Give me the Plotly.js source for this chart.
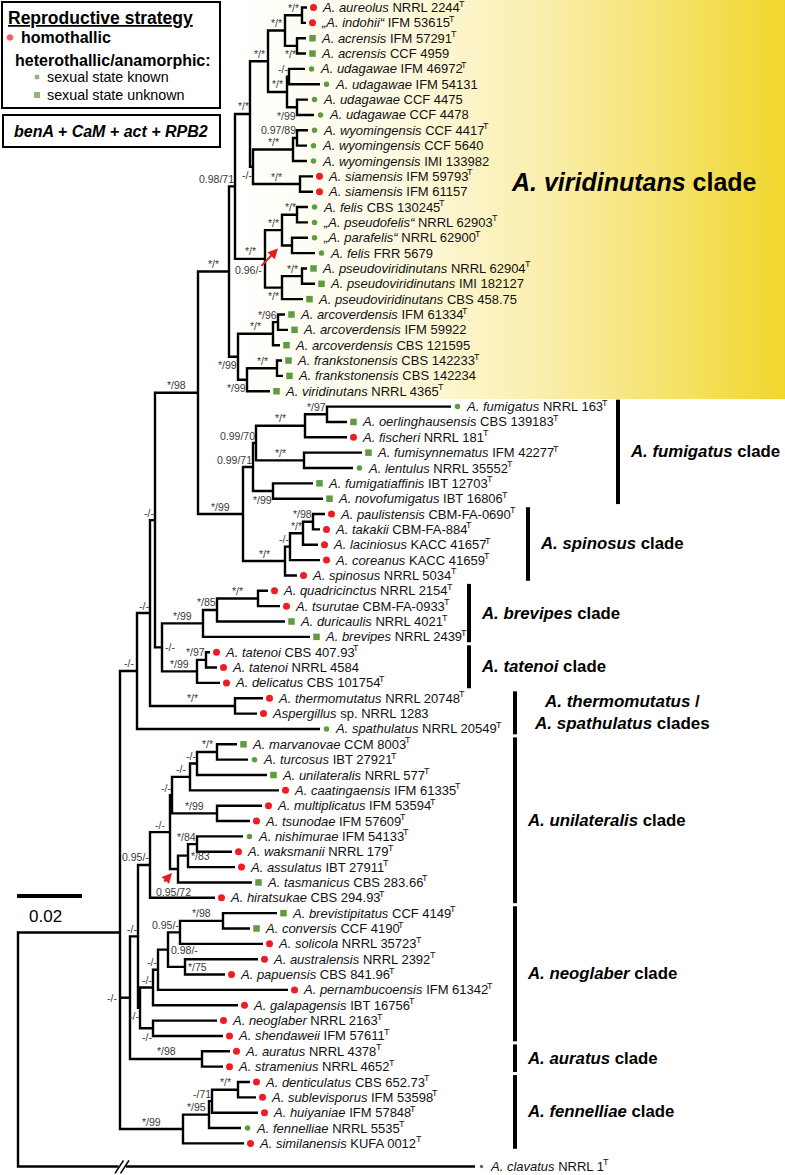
<!DOCTYPE html>
<html><head><meta charset="utf-8">
<script src="https://cdn.plot.ly/plotly-3.0.1.min.js"></script>
<style>html,body{margin:0;padding:0;background:#fff}#chart{width:785px;height:1175px}</style>
</head><body><div id="chart"></div>
<script>
// ================= DATA =================
const leafSpecies = ["A. aureolus","„A. indohii“","A. acrensis","A. acrensis","A. udagawae","A. udagawae","A. udagawae","A. udagawae","A. wyomingensis","A. wyomingensis","A. wyomingensis","A. siamensis","A. siamensis","A. felis","„A. pseudofelis“","„A. parafelis“","A. felis","A. pseudoviridinutans","A. pseudoviridinutans","A. pseudoviridinutans","A. arcoverdensis","A. arcoverdensis","A. arcoverdensis","A. frankstonensis","A. frankstonensis","A. viridinutans","A. fumigatus","A. oerlinghausensis","A. fischeri","A. fumisynnematus","A. lentulus","A. fumigatiaffinis","A. novofumigatus","A. paulistensis","A. takakii","A. laciniosus","A. coreanus","A. spinosus","A. quadricinctus","A. tsurutae","A. duricaulis","A. brevipes","A. tatenoi","A. tatenoi","A. delicatus","A. thermomutatus","Aspergillus","A. spathulatus","A. marvanovae","A. turcosus","A. unilateralis","A. caatingaensis","A. multiplicatus","A. tsunodae","A. nishimurae","A. waksmanii","A. assulatus","A. tasmanicus","A. hiratsukae","A. brevistipitatus","A. conversis","A. solicola","A. australensis","A. papuensis","A. pernambucoensis","A. galapagensis","A. neoglaber","A. shendaweii","A. auratus","A. stramenius","A. denticulatus","A. sublevisporus","A. huiyaniae","A. fennelliae","A. similanensis","A. clavatus"];
const leafStrain = ["NRRL 2244","IFM 53615","IFM 57291","CCF 4959","IFM 46972","IFM 54131","CCF 4475","CCF 4478","CCF 4417","CCF 5640","IMI 133982","IFM 59793","IFM 61157","CBS 130245","NRRL 62903","NRRL 62900","FRR 5679","NRRL 62904","IMI 182127","CBS 458.75","IFM 61334","IFM 59922","CBS 121595","CBS 142233","CBS 142234","NRRL 4365","NRRL 163","CBS 139183","NRRL 181","IFM 42277","NRRL 35552","IBT 12703","IBT 16806","CBM-FA-0690","CBM-FA-884","KACC 41657","KACC 41659","NRRL 5034","NRRL 2154","CBM-FA-0933","NRRL 4021","NRRL 2439","CBS 407.93","NRRL 4584","CBS 101754","NRRL 20748","sp. NRRL 1283","NRRL 20549","CCM 8003","IBT 27921","NRRL 577","IFM 61335","IFM 53594","IFM 57609","IFM 54133","NRRL 179","IBT 27911","CBS 283.66","CBS 294.93","CCF 4149","CCF 4190","NRRL 35723","NRRL 2392","CBS 841.96","IFM 61342","IBT 16756","NRRL 2163","IFM 57611","NRRL 4378","NRRL 4652","CBS 652.73","IFM 53598","IFM 57848","NRRL 5535","KUFA 0012","NRRL 1"];
// 1 = ex-type strain (superscript T)
const leafExType = [1,1,1,0,1,0,0,0,1,0,0,1,0,1,1,1,0,1,0,0,1,0,0,1,0,1,1,1,1,1,1,1,1,1,1,1,1,1,1,1,1,1,1,0,1,1,0,1,1,1,1,1,1,1,1,1,1,1,1,1,1,1,1,1,1,1,1,1,1,1,1,1,1,1,1,1];
// h = homothallic, k = heterothallic/anamorphic sexual state known, u = sexual state unknown, o = outgroup
const leafRepro = ["h","h","u","u","k","k","k","k","k","k","k","h","h","k","k","k","k","u","u","u","u","u","u","u","u","u","k","u","h","u","k","u","u","h","h","h","h","h","h","h","u","u","h","h","h","h","h","k","u","k","u","h","h","h","k","h","h","u","h","u","u","h","h","h","h","h","h","h","h","h","h","h","h","k","h","o"];
// cumulative distance from root of each tip (x units; 65 units = 0.02 substitutions/site)
const leafDepth = [307,306,306,306,305,320,308,314,308,307,307,313,313,308,308,308,315,307,315,303,285,288,280,282,283,270,451,347,347,362,353,313,323,325,320,318,320,297,268,280,285,310,210,217,220,263,257,320,237,248,267,279,262,250,243,232,235,252,215,277,250,263,258,225,288,238,217,223,230,223,250,256,258,241,244,475];
// internal nodes (post-order): children, depth, support (PP/BS)
const nodeKids = [
 ['L0','L1'],['L2','L3'],['N0','N1'],['L4','L5'],['L6','L7'],['N3','N4'],['N2','N5'],['L8','L9'],['N7','L10'],['L11','L12'],
 ['N8','N9'],['N6','N10'],['L13','L14'],['L15','L16'],['N12','N13'],['L17','L18'],['N15','L19'],['N14','N16'],['N11','N17'],['L20','L21'],
 ['N19','L22'],['L23','L24'],['N21','L25'],['N20','N22'],['N18','N23'],['L26','L27'],['N25','L28'],['L29','L30'],['N26','N27'],['L31','L32'],
 ['N28','N29'],['L33','L34'],['N31','L35'],['N32','L36'],['N33','L37'],['N30','N34'],['N24','N35'],['L38','L39'],['N37','L40'],['N38','L41'],
 ['L42','L43'],['N40','L44'],['N39','N41'],['N36','N42'],['L45','L46'],['N43','N44'],['N45','L47'],['L48','L49'],['N47','L50'],['N48','L51'],
 ['L52','L53'],['N49','N50'],['L54','L55'],['N52','L56'],['N53','L57'],['N51','N54'],['N55','L58'],['L59','L60'],['N57','L61'],['L62','L63'],
 ['N58','N59'],['N60','L64'],['N61','L65'],['L66','L67'],['N62','N63'],['L68','L69'],['N56','N64'],['N66','N65'],['L70','L71'],['N68','L72'],
 ['N69','L73'],['N70','L74'],['N46','N67','N71'],['N72','L75']
];
const nodeDepth = [302,297,285,289,297,287,268,297,293,300, 253,250,297,292,282,302,282,265,235,278, 273,277,247,238,229,327,305,304,256,273, 253,313,303,290,285,243,198,258,217,203, 206,197,162,155,235,150,137,217,197,190, 217,172,197,188,178,170,150,223,180,185, 168,158,153,153,140,202,138,130,238,212, 209,183,120,18];
const nodeSupport = ["*/*","*/*","*/*","-/-","*/99","*/*","*/*","0.97/89","*/*","*/*", "-/-","*/*","*/*","0.96/-","*/*","*/*","*/*","*/*","0.98/71","*/96", "*/*","*/*","*/99","*/99","*/*","*/97","*/*","*/*","0.99/70","*/99", "0.99/71","*/98","*/*","-/-","*/*","*/99","*/98","*/*","*/85","*/99", "*/97","*/99","-/-","-/-","*/*","-/-","-/-","*/*","-/-","-/-", "*/99","-/-","*/84","*/83","0.95/72","-/-","0.95/-","*/98","0.95/-","*/75", "0.98/-","-/-","-/-","-/-","-/-","*/98","-/-","-/-","*/*","-/71", "*/95","*/99","",""];
// clades
const cladeNames = ["A. viridinutans","A. fumigatus","A. spinosus","A. brevipes","A. tatenoi","A. thermomutatus|A. spathulatus","A. unilateralis","A. neoglaber","A. auratus","A. fennelliae"];
const cladeFirst = [0,26,33,38,42,45,48,59,68,70];
const cladeLast  = [25,32,37,41,44,47,58,67,69,74];
const scaleValue = 0.02;
const unitsPerSubst = 3250;

// ================= STYLE =================
// support-label placement: a = above incoming branch, b = below, r = right of node, p = left of parent, L/B = with arrow
const labelMode = ["a","b","a","a","b","a","a","a","a","a", "b","a","a","L","a","a","b","a","a","a", "a","a","b","b","a","a","a","a","a","b", "a","a","a","a","a","a","a","a","a","a", "a","a","r","a","a","a","a","a","a","a", "a","a","a","r","B","a","a","a","a","r", "r","a","a","b","b","a","a","p","a","a", "a","a","",""];
const cladeBarX = [null,618,528,469,469,515,515,515,515,515];
const FONT = "Liberation Sans, Arial, sans-serif";
const RED = "#ee1c24", GREEN = "#5f9b3f";
const rowTop = 7.5, rowPitch = 15.35, outgroupGap = 0.5;
const SUP_SIZE = 10.5, TIP_SIZE = 13;

// ================= LAYOUT COMPUTATION =================
const pos = {};
const rowY = r => rowTop + r * rowPitch;
leafSpecies.forEach((s, i) => {
  const r = leafRepro[i] === 'o' ? i + outgroupGap : i;
  pos['L' + i] = {x: leafDepth[i], y: rowY(r)};
});
const parentOf = {};
nodeKids.forEach((kids, j) => {
  const ys = kids.map(k => pos[k].y);
  pos['N' + j] = {x: nodeDepth[j], y: ys.reduce((a, b) => a + b, 0) / ys.length};
  kids.forEach(k => parentOf[k] = 'N' + j);
});

// branches
const bx = [], by = [];
nodeKids.forEach((kids, j) => {
  const p = pos['N' + j], f = pos[kids[0]], l = pos[kids[kids.length - 1]];
  bx.push(f.x, p.x, p.x, l.x, null); by.push(f.y, f.y, l.y, l.y, null);
  for (let k = 1; k < kids.length - 1; k++) { const m = pos[kids[k]]; bx.push(p.x, m.x, null); by.push(m.y, m.y, null); }
});

const traces = [];
// yellow highlight behind the A. viridinutans clade
const gx0 = 232, gy1 = rowY(cladeLast[0] + 0.5);
traces.push({type: 'scatter', x: [gx0, 785, 785, gx0, gx0], y: [0, 0, gy1, gy1, 0], mode: 'none', fill: 'toself',
  fillgradient: {type: 'horizontal', colorscale: [[0, 'rgba(255,255,255,1)'], [0.25, '#fefbe9'], [0.55, '#faefb0'], [0.8, '#f5e269'], [1, '#f1d62c']]},
  hoverinfo: 'skip', showlegend: false});
traces.push({type: 'scatter', mode: 'lines', x: bx, y: by, line: {color: '#000', width: 2.4}, hoverinfo: 'skip', showlegend: false, connectgaps: false});

// tip markers
const mk = {h: {c: RED, s: 'circle', z: 7}, k: {c: GREEN, s: 'circle', z: 5.5}, u: {c: GREEN, s: 'square', z: 6.5}, o: {c: '#666', s: 'circle', z: 3.5}};
Object.keys(mk).forEach(key => {
  const xs = [], ys = [];
  leafRepro.forEach((r, i) => { if (r === key) { xs.push(pos['L' + i].x + 6.5); ys.push(pos['L' + i].y); } });
  traces.push({type: 'scatter', mode: 'markers', x: xs, y: ys, marker: {color: mk[key].c, symbol: mk[key].s, size: mk[key].z, line: {width: 0}}, hoverinfo: 'skip', showlegend: false});
});

const ann = [];
// tip labels (the ex-type "T" is placed after the measured label width)
const ctx = document.createElement('canvas').getContext('2d');
function measure(font, s) { ctx.font = font; return ctx.measureText(s).width; }
leafSpecies.forEach((s, i) => {
  const p = pos['L' + i], tx = p.x + 12.5;
  ann.push({x: tx, y: p.y, xanchor: 'left', yanchor: 'middle', showarrow: false,
    text: '<i>' + s + '</i> ' + leafStrain[i], font: {family: FONT, size: TIP_SIZE, color: '#111'}});
  if (leafExType[i]) {
    const w = measure('italic ' + TIP_SIZE + 'px "Liberation Sans"', s) + measure(TIP_SIZE + 'px "Liberation Sans"', ' ' + leafStrain[i]);
    ann.push({x: tx + w + 0.3, y: p.y - 4, xanchor: 'left', yanchor: 'middle', showarrow: false,
      text: 'T', font: {family: FONT, size: 9, color: '#111'}});
  }
});

// support labels
function textW(s, size) { let w = 0; for (const c of s) w += '0123456789'.includes(c) ? 0.556 : c === '*' ? 0.389 : c === '/' ? 0.278 : c === '-' ? 0.333 : 0.278; return w * size; }
const SF = {family: FONT, size: SUP_SIZE, color: '#3a3a3a'};
nodeSupport.forEach((s, j) => {
  if (!s) return;
  const n = pos['N' + j], par = pos[parentOf['N' + j]];
  const w = textW(s, SUP_SIZE), mode = labelMode[j];
  let cx, cy;
  if (mode === 'a' || mode === 'b') {
    const L = n.x - par.x;
    cx = (w + 4 <= L) ? (n.x + par.x) / 2 : n.x - 1 - w / 2;
    cy = mode === 'a' ? n.y - 7.5 : n.y + 8.5;
  } else if (mode === 'r') { cx = n.x + 3 + w / 2; cy = n.y; }
  else if (mode === 'p') { cx = par.x - 3 - w / 2; cy = n.y; }
  else if (mode === 'L' || mode === 'B') {
    let hx, hy, tx, ty;
    if (mode === 'L') { hx = n.x - 14; hy = n.y + 3; tx = hx - 18; ty = hy + 19; cx = tx + 2 - w / 2; cy = ty + 3; }
    else { hx = n.x - 6; hy = n.y + 4; tx = hx - 9; ty = hy + 10; cx = tx + 10; cy = ty + 9; }
    ann.push({x: hx, y: hy, ax: tx, ay: ty, axref: 'x', ayref: 'y', xref: 'x', yref: 'y', showarrow: true,
      arrowhead: 2, arrowsize: 1, arrowwidth: 2, arrowcolor: '#e8191f', text: ''});
  }
  ann.push({x: cx, y: cy, xanchor: 'center', yanchor: 'middle', showarrow: false, text: s, font: SF});
});

// clade bars and names
const shapes = [];
cladeNames.forEach((nm, c) => {
  const y0 = rowY(cladeFirst[c] - 0.45), y1 = rowY(cladeLast[c] + 0.35), bxX = cladeBarX[c];
  if (bxX === null) {
    ann.push({x: 509, y: rowY((cladeFirst[c] + cladeLast[c]) / 2) - 17, xanchor: 'left', yanchor: 'middle', showarrow: false,
      text: '<b><i>' + nm + '</i> clade</b>', font: {family: FONT, size: 25, color: '#000'}});
    return;
  }
  shapes.push({type: 'line', x0: bxX, x1: bxX, y0: y0, y1: y1, line: {color: '#000', width: 4}});
  const ym = (y0 + y1) / 2;
  if (nm.includes('|')) {
    const parts = nm.split('|');
    ann.push({x: bxX + 107, y: ym, xanchor: 'center', yanchor: 'middle', align: 'center', showarrow: false,
      text: '<b><i>' + parts[0] + '</i> /</b><br><b><i>' + parts[1] + '</i> clades</b>', font: {family: FONT, size: 17, color: '#000'}});
  } else {
    ann.push({x: bxX + 10, y: ym, xanchor: 'left', yanchor: 'middle', showarrow: false,
      text: '<b><i>' + nm + '</i> clade</b>', font: {family: FONT, size: 16.8, color: '#000'}});
  }
});

// scale bar
const sbX = 17, sbY = 896;
shapes.push({type: 'line', x0: sbX, x1: sbX + scaleValue * unitsPerSubst, y0: sbY, y1: sbY, line: {color: '#000', width: 4}});
ann.push({x: sbX + scaleValue * unitsPerSubst / 2 - 4, y: sbY + 20, showarrow: false, xanchor: 'center', yanchor: 'middle', text: String(scaleValue), font: {family: FONT, size: 17, color: '#000'}});

// break on outgroup branch
const og = pos['L' + (leafSpecies.length - 1)];
shapes.push({type: 'rect', x0: 118.5, x1: 126, y0: og.y - 3, y1: og.y + 3, fillcolor: '#fff', line: {width: 0}});
shapes.push({type: 'line', x0: 115, y0: og.y + 7, x1: 123.5, y1: og.y - 6, line: {color: '#000', width: 1.6}});
shapes.push({type: 'line', x0: 120.5, y0: og.y + 7, x1: 129, y1: og.y - 6, line: {color: '#000', width: 1.6}});

// legend boxes
shapes.push({type: 'rect', x0: 2, x1: 220, y0: 2, y1: 108, line: {color: '#000', width: 2}, fillcolor: 'rgba(255,255,255,0)'});
shapes.push({type: 'rect', x0: 3, x1: 220, y0: 115, y1: 147, line: {color: '#000', width: 2}, fillcolor: 'rgba(255,255,255,0)'});
traces.push({type: 'scatter', mode: 'markers', x: [10, 37, 37], y: [37.5, 77, 95],
  marker: {color: [RED, GREEN, GREEN], symbol: ['circle', 'circle', 'square'], size: [7.5, 6, 7]}, hoverinfo: 'skip', showlegend: false});
const LF = s => ({family: FONT, size: s, color: '#000'});
ann.push({x: 6, y: 18, xanchor: 'left', yanchor: 'middle', showarrow: false, text: '<b><u>Reproductive strategy</u></b>', font: LF(17.5)});
ann.push({x: 19, y: 37.5, xanchor: 'left', yanchor: 'middle', showarrow: false, text: '<b>homothallic</b>', font: LF(16)});
ann.push({x: 13, y: 60, xanchor: 'left', yanchor: 'middle', showarrow: false, text: '<b>heterothallic/anamorphic:</b>', font: LF(16)});
ann.push({x: 45, y: 77, xanchor: 'left', yanchor: 'middle', showarrow: false, text: 'sexual state known', font: LF(14.3)});
ann.push({x: 45, y: 95, xanchor: 'left', yanchor: 'middle', showarrow: false, text: 'sexual state unknown', font: LF(14.3)});
ann.push({x: 111, y: 131.5, xanchor: 'center', yanchor: 'middle', showarrow: false, text: '<b><i>benA + CaM + act + RPB2</i></b>', font: LF(16)});

const layout = {
  width: 785, height: 1175, margin: {l: 0, r: 0, t: 0, b: 0}, autosize: false,
  paper_bgcolor: '#fff', plot_bgcolor: '#fff', showlegend: false,
  xaxis: {range: [0, 785], visible: false, fixedrange: true},
  yaxis: {range: [1175, 0], visible: false, fixedrange: true},
  shapes: shapes, annotations: ann
};
Plotly.newPlot('chart', traces, layout, {staticPlot: true, displayModeBar: false});
</script></body></html>
